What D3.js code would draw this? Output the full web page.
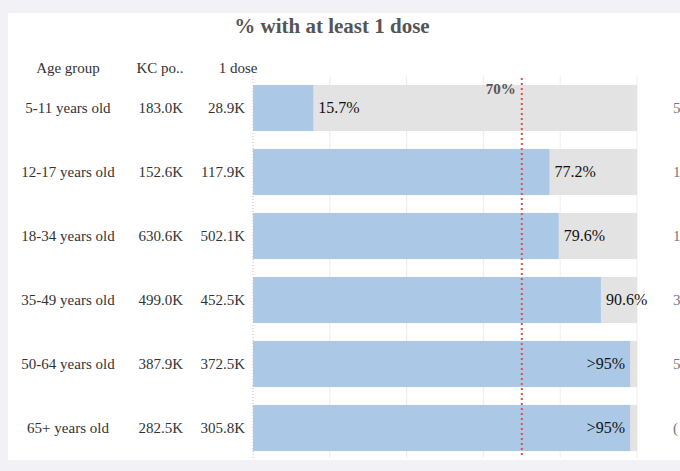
<!DOCTYPE html>
<html><head><meta charset="utf-8">
<script src="https://cdn.jsdelivr.net/npm/d3@7"></script>
<style>
body{margin:0;background:#f2f2f6;}
svg text{font-family:"Liberation Serif","Times New Roman",Times,serif;}
</style></head>
<body><svg id="chart" width="680" height="471"></svg>
<script>
const AGE_GROUPS = ["5-11 years old","12-17 years old","18-34 years old","35-49 years old","50-64 years old","65+ years old"];
const POPULATION = ["183.0K","152.6K","630.6K","499.0K","387.9K","282.5K"];
const ONE_DOSE = ["28.9K","117.9K","502.1K","452.5K","372.5K","305.8K"];
const PCT = [15.7, 77.2, 79.6, 90.6, 98.2, 98.2];
const PCT_LABELS = ["15.7%","77.2%","79.6%","90.6%",">95%",">95%"];
const CUT_TEXT = ["5","1","1","3","5","("];
const TARGET = 70;

const svg = d3.select("#chart");
svg.append("rect").attr("x", 8).attr("y", 13).attr("width", 672).attr("height", 447).attr("fill", "#fff");

svg.append("text").attr("x", 332).attr("y", 33).attr("text-anchor", "middle")
  .attr("font-size", 21).attr("font-weight", "bold").attr("fill", "#555").text("% with at least 1 dose");

const x = d3.scaleLinear().domain([0, 100]).range([253, 637]);
const y = d3.scaleBand().domain(AGE_GROUPS).range([76, 460]).paddingInner(0.28).paddingOuter(0.14);

// grid
svg.append("g").selectAll("line").data(d3.range(0, 101, 20)).join("line")
  .attr("x1", d => x(d)).attr("x2", d => x(d)).attr("y1", 76).attr("y2", 458)
  .attr("stroke-dasharray", d => d === 0 ? "1,2" : null).attr("stroke", d => d === 0 ? "#bbb" : "#eee");

// headers
const hdr = [["Age group", 68], ["KC po..", 160], ["1 dose", 238]];
svg.append("g").selectAll("text").data(hdr).join("text")
  .attr("x", d => d[1]).attr("y", 73).attr("text-anchor", "middle")
  .attr("font-size", 15).attr("fill", "#333").text(d => d[0]);

const rows = svg.append("g").selectAll("g").data(AGE_GROUPS).join("g")
  .attr("transform", d => `translate(0,${y(d)})`);
const bh = y.bandwidth();

rows.append("rect").attr("x", x(0)).attr("width", x(100) - x(0)).attr("height", bh).attr("fill", "#e3e3e3");
rows.append("rect").attr("x", x(0)).attr("width", (d, i) => x(PCT[i]) - x(0)).attr("height", bh).attr("fill", "#abc9e7");

const txt = (sel) => sel.attr("y", bh / 2 + 5).attr("font-size", 15).attr("fill", "#333");
rows.append("text").call(txt).attr("x", 68).attr("text-anchor", "middle").text(d => d);
rows.append("text").call(txt).attr("x", 183).attr("text-anchor", "end").text((d, i) => POPULATION[i]);
rows.append("text").call(txt).attr("x", 245).attr("text-anchor", "end").text((d, i) => ONE_DOSE[i]);
rows.append("text").call(txt).attr("font-size", 16).attr("fill", "#111")
  .attr("x", (d, i) => PCT[i] > 95 ? x(PCT[i]) - 5 : x(PCT[i]) + 5)
  .attr("text-anchor", (d, i) => PCT[i] > 95 ? "end" : "start").text((d, i) => PCT_LABELS[i]);
rows.append("text").call(txt).attr("x", 673).attr("fill", "#777").text((d, i) => CUT_TEXT[i]);

// target line
svg.append("line").attr("x1", x(TARGET)).attr("x2", x(TARGET)).attr("y1", 78).attr("y2", 458)
  .attr("stroke", "#d9534f").attr("stroke-width", 2).attr("stroke-dasharray", "2,3");
svg.append("text").attr("x", x(TARGET) - 6).attr("y", 94).attr("text-anchor", "end")
  .attr("font-size", 15).attr("font-weight", "bold").attr("fill", "#555").text("70%");
</script></body></html>
